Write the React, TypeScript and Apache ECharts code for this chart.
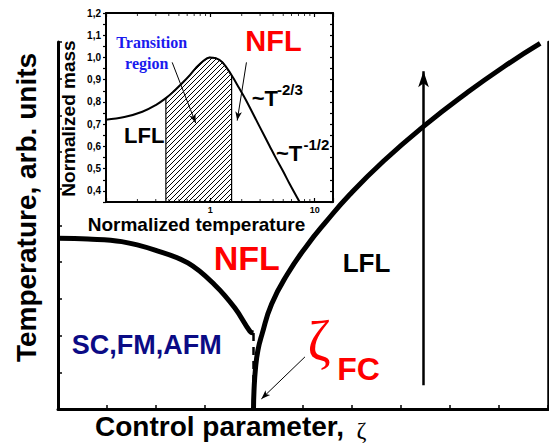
import React, { useEffect, useRef } from 'react';
import * as echarts from 'echarts';

// Main phase diagram (arbitrary units, 0..10 on both axes)
const phaseX = [0, 0.61, 1.3, 1.98, 2.65, 3.2, 3.61, 3.92, 3.99];
const phaseT = [4.65, 4.63, 4.56, 4.33, 3.98, 3.38, 2.75, 2.11, 2.07];
const crossX = [3.99, 4.0, 4.03, 4.08, 4.16, 4.36, 4.69, 5.09, 5.45, 5.96, 6.64, 7.46, 8.34, 9.09, 9.84];
const crossT = [0, 0.5, 1.1, 1.6, 2.02, 2.86, 3.69, 4.47, 5.07, 5.85, 6.75, 7.7, 8.61, 9.32, 9.96];
const mainMin = 0;
const mainMax = 10;

// Inset: normalized mass vs normalized temperature (log x)
const insetT = [0.1, 0.15, 0.223, 0.3, 0.375, 0.45, 0.542, 0.64, 0.728, 0.85, 0.98, 1.13, 1.31, 1.6, 1.9, 2.2, 2.96, 3.69, 4.28, 5.0, 5.75, 7.18];
const insetMass = [0.72, 0.732, 0.756, 0.786, 0.817, 0.849, 0.886, 0.922, 0.953, 0.983, 1.0, 0.997, 0.978, 0.92, 0.86, 0.808, 0.69, 0.603, 0.545, 0.487, 0.432, 0.35];
const hatchFrom = 0.375;
const hatchTo = 1.6;
const insetMassMin = 0.35;
const insetMassMax = 1.2;
const insetTMin = 0.1;
const insetTMax = 15;
const insetMinorT = [0.2, 0.3, 0.4, 0.5, 0.6, 0.7, 0.8, 0.9, 2, 3, 4, 5, 6, 7, 8, 9];

const SANS = "'Liberation Sans', Arial, sans-serif";
const SERIF = "'Liberation Serif', 'Times New Roman', serif";

function makeHatch() {
  const c = document.createElement('canvas');
  c.width = 5;
  c.height = 5;
  const g = c.getContext('2d')!;
  g.strokeStyle = '#000';
  g.lineWidth = 1;
  g.beginPath();
  g.moveTo(0, 5);
  g.lineTo(5, 0);
  g.moveTo(-1, 1);
  g.lineTo(1, -1);
  g.moveTo(4, 6);
  g.lineTo(6, 4);
  g.stroke();
  return c;
}

function txt(text: string, x: number, y: number, size: number, o: any = {}) {
  return {
    type: 'text',
    x,
    y,
    rotation: o.rotation || 0,
    silent: true,
    z: 10,
    style: {
      text,
      fill: o.color || '#000',
      fontSize: size,
      fontWeight: o.weight || 'bold',
      fontFamily: o.family || SANS,
      align: o.align || 'center',
      verticalAlign: 'middle',
    },
  };
}

export default function App() {
  const ref = useRef<HTMLDivElement>(null);
  useEffect(() => {
    const chart = echarts.init(ref.current!, null, { renderer: 'svg' });
    const lastX = phaseX[phaseX.length - 1];
    const lastT = phaseT[phaseT.length - 1];
    const hatchData: number[][] = [[hatchFrom, insetMassMin]];
    insetT.forEach((t, i) => {
      if (t >= hatchFrom && t <= hatchTo) hatchData.push([t, insetMass[i]]);
    });
    hatchData.push([hatchTo, insetMassMin]);

    const yFmt = (v: number) => {
      const t = Math.round(v * 100);
      return t % 10 === 0 ? (t / 100).toFixed(1).replace('.', ',') : '';
    };
    const xFmt = (v: number) => {
      const l = Math.log10(v);
      const r = Math.round(l);
      return Math.abs(l - r) < 1e-6 && r >= 0 ? String(Math.pow(10, r)) : '';
    };
    const blackLine = (w: number) => ({ show: true, onZero: false, lineStyle: { color: '#000', width: w } });

    const option: any = {
      animation: false,
      grid: [
        { left: 58, top: 42, width: 490, height: 367 },
        { left: 106, top: 13, width: 227, height: 189 },
      ],
      xAxis: [
        {
          gridIndex: 0, type: 'value', min: mainMin, max: mainMax, interval: 1,
          axisLine: blackLine(3),
          axisTick: { show: true, inside: true, length: 4, lineStyle: { color: '#000', width: 1.5 } },
          axisLabel: { show: false }, splitLine: { show: false },
        },
        {
          gridIndex: 1, type: 'log', logBase: 10, min: insetTMin, max: insetTMax, position: 'bottom',
          axisLine: blackLine(2),
          axisTick: { show: true, inside: true, length: 4, lineStyle: { color: '#000', width: 1.2 } },
          axisLabel: { show: true, fontSize: 9, fontWeight: 'bold', color: '#000', fontFamily: SANS, margin: 3, formatter: xFmt },
          splitLine: { show: false }, minorTick: { show: false },
        },
        {
          gridIndex: 1, type: 'log', logBase: 10, min: insetTMin, max: insetTMax, position: 'top',
          axisLine: blackLine(2),
          axisTick: { show: true, inside: true, length: 4, lineStyle: { color: '#000', width: 1.2 } },
          axisLabel: { show: false }, splitLine: { show: false },
        },
      ],
      yAxis: [
        {
          gridIndex: 0, type: 'value', min: mainMin, max: mainMax, interval: 1, position: 'left',
          axisLine: blackLine(3),
          axisTick: { show: true, inside: true, length: 4, lineStyle: { color: '#000', width: 1.5 } },
          axisLabel: { show: false }, splitLine: { show: false },
        },
        {
          gridIndex: 0, type: 'value', min: mainMin, max: mainMax, interval: 1, position: 'right',
          axisLine: blackLine(2.5), axisTick: { show: false },
          axisLabel: { show: false }, splitLine: { show: false },
        },
        {
          gridIndex: 1, type: 'value', min: insetMassMin, max: insetMassMax, interval: 0.05, position: 'left',
          axisLine: blackLine(2),
          axisTick: { show: true, inside: false, length: 3, lineStyle: { color: '#000', width: 1.2 } },
          axisLabel: { show: true, fontSize: 10, fontWeight: 'bold', color: '#000', fontFamily: SANS, margin: 5, formatter: yFmt },
          splitLine: { show: false },
        },
        {
          gridIndex: 1, type: 'value', min: insetMassMin, max: insetMassMax, interval: 0.05, position: 'right',
          axisLine: blackLine(2),
          axisTick: { show: true, inside: true, length: 3, lineStyle: { color: '#000', width: 1.2 } },
          axisLabel: { show: false }, splitLine: { show: false },
        },
      ],
      series: [
        {
          type: 'line', xAxisIndex: 0, yAxisIndex: 0, silent: true, z: 3,
          data: phaseX.map((x, i) => [x, phaseT[i]]),
          smooth: 0.4, symbol: 'none', lineStyle: { color: '#000', width: 5 },
        },
        {
          type: 'line', xAxisIndex: 0, yAxisIndex: 0, silent: true, z: 3,
          data: [[lastX, lastT], [lastX, mainMin]],
          symbol: 'none', lineStyle: { color: '#000', width: 2.5, type: [8, 6] },
        },
        {
          type: 'line', xAxisIndex: 0, yAxisIndex: 0, silent: true, z: 3,
          data: crossX.map((x, i) => [x, crossT[i]]),
          smooth: 0.5, symbol: 'none', lineStyle: { color: '#000', width: 5 },
          markLine: {
            silent: true, symbol: ['none', 'none'], label: { show: false },
            lineStyle: { color: '#000', width: 2.5, type: 'solid' },
            emphasis: { disabled: true },
            data: [
              [{ coord: [7.46, 0.65] }, { coord: [7.46, 9.2], symbol: 'arrow', symbolSize: [8, 16] }],
              [{ coord: [5.04, 1.42], lineStyle: { width: 1, color: '#000' } }, { coord: [4.15, 0.275], symbol: 'arrow', symbolSize: [5, 9] }],
            ],
          },
        },
        {
          type: 'line', xAxisIndex: 1, yAxisIndex: 2, silent: true, z: 2,
          data: hatchData, smooth: false, symbol: 'none',
          lineStyle: { color: '#000', width: 1.2 },
          areaStyle: { origin: 'start', opacity: 1, color: { image: makeHatch(), repeat: 'repeat', imageWidth: 5, imageHeight: 5 } },
        },
        {
          type: 'line', xAxisIndex: 1, yAxisIndex: 2, silent: true, z: 3,
          data: insetT.map((t, i) => [t, insetMass[i]]),
          smooth: 0.4, symbol: 'none', lineStyle: { color: '#000', width: 2 },
          markLine: {
            silent: true, symbol: ['none', 'none'], label: { show: false },
            lineStyle: { color: '#000', width: 1, type: 'solid' },
            emphasis: { disabled: true },
            data: [
              [{ coord: [0.431, 0.978] }, { coord: [0.724, 0.705], symbol: 'arrow', symbolSize: [5, 9] }],
              [{ coord: [2.22, 0.978] }, { coord: [1.81, 0.716], symbol: 'arrow', symbolSize: [5, 9] }],
            ],
          },
        },
        {
          type: 'scatter', xAxisIndex: 1, yAxisIndex: 2, silent: true, clip: false, z: 4,
          data: insetMinorT.map((t) => [t, insetMassMin]),
          symbol: 'rect', symbolSize: [1, 3], symbolOffset: [0, -1.5], itemStyle: { color: '#000' },
        },
        {
          type: 'scatter', xAxisIndex: 1, yAxisIndex: 2, silent: true, clip: false, z: 4,
          data: insetMinorT.map((t) => [t, insetMassMax]),
          symbol: 'rect', symbolSize: [1, 3], symbolOffset: [0, 1.5], itemStyle: { color: '#000' },
        },
      ],
      graphic: [
        txt('Temperature, arb. units', 26, 207.5, 28, { rotation: Math.PI / 2 }),
        txt('Control parameter, ', 95, 426, 28, { align: 'left' }),
        txt('\u03B6', 361.5, 430, 24, { family: SERIF, weight: 'normal' }),
        txt('NFL', 246.7, 258.3, 34, { color: '#ff0000' }),
        txt('LFL', 366.5, 262.5, 26),
        txt('SC,FM,AFM', 146.7, 345, 27, { color: '#0b0b85' }),
        txt('\u03B6', 319, 340.5, 56, { family: SERIF, weight: 'normal', color: '#ff0000' }),
        txt('FC', 358.5, 368.5, 32, { color: '#ff0000' }),
        txt('Transition', 151.7, 42.5, 16, { family: SERIF, color: '#1a1aee' }),
        txt('region', 146.7, 63, 16, { family: SERIF, color: '#1a1aee' }),
        txt('NFL', 273.5, 40.5, 29, { color: '#ff0000' }),
        txt('LFL', 144.2, 135, 22),
        txt('~T', 251.7, 98, 22, { align: 'left' }),
        txt('-2/3', 277, 89, 15, { align: 'left' }),
        txt('~T', 276, 153.3, 22, { align: 'left' }),
        txt('-1/2', 303.5, 144, 15, { align: 'left' }),
        txt('Normalized temperature', 196.5, 224, 19),
        txt('Normalized mass', 68.5, 118.5, 19, { rotation: Math.PI / 2 }),
      ],
    };
    chart.setOption(option);
    return () => chart.dispose();
  }, []);
  return (
    <div
      ref={ref}
      style={{ position: 'fixed', left: 0, top: 0, width: 549, height: 445, background: '#fff' }}
    />
  );
}
